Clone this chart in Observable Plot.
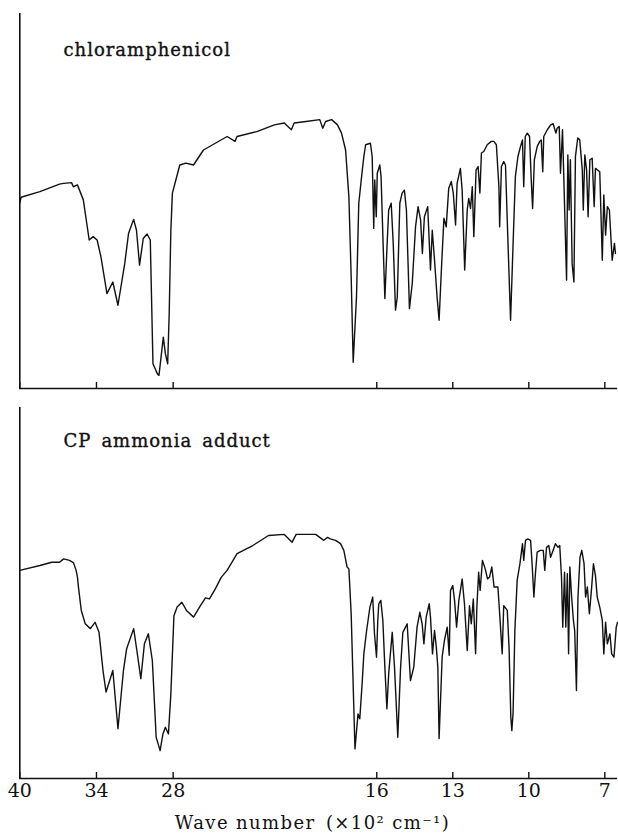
<!DOCTYPE html>
<html>
<head>
<meta charset="utf-8">
<script src="https://cdn.jsdelivr.net/npm/d3@7"></script>
<script src="https://cdn.jsdelivr.net/npm/@observablehq/plot@0.6"></script>
<style>
  html, body { margin: 0; padding: 0; background: #fff; }
  #wrap { position: relative; width: 618px; height: 834px; overflow: hidden; }
  #wrap > svg { position: absolute; left: 0; display: block; }
  .wide text { letter-spacing: 1px; }
  .title text { letter-spacing: 1.4px; }
</style>
</head>
<body>
<div id="wrap"></div>
<script>
// ---- Data (wave number in cm^-1, transmittance in % of panel height) ----
const panelLabels = ["chloramphenicol", "CP\u2002ammonia\u2002adduct"];
const tickValues = [4000, 3400, 2800, 1600, 1300, 1000, 700];
const axisTitle = "Wave number\u2002(×10² cm⁻¹)";

const topWavenumber = [4000, 3990, 3843, 3689, 3658, 3595, 3581, 3549, 3503, 3457, 3426, 3395, 3365, 3318, 3272, 3232, 3179, 3149, 3109, 3087, 3063, 3034, 3004, 2979, 2958, 2923, 2911, 2877, 2861, 2843, 2831, 2818, 2806, 2779, 2748, 2701, 2641, 2563, 2470, 2378, 2316, 2300, 2146, 2008,
  1965, 1937, 1926, 1879, 1825, 1813, 1802, 1778, 1755, 1739, 1723, 1710, 1701, 1693, 1680, 1671, 1657, 1651, 1644, 1625, 1618, 1612, 1608, 1602, 1598, 1588, 1583, 1575, 1568, 1559, 1553, 1543, 1535, 1526, 1519, 1509, 1500, 1491, 1483, 1471, 1460, 1447, 1437, 1427, 1420, 1412, 1399, 1388, 1381, 1372, 1362, 1354, 1345, 1335, 1326, 1316, 1306, 1298, 1289, 1283, 1270, 1263, 1253, 1243, 1237, 1230, 1223, 1217, 1208, 1200, 1193, 1187, 1178, 1164, 1148, 1138, 1128, 1118, 1115, 1108, 1099, 1092, 1083, 1072, 1062, 1053, 1043, 1033, 1025, 1020, 1014, 1006, 997, 991, 985, 978, 967, 957, 951, 945, 941, 927, 914, 904, 893, 888, 880, 875, 867, 862, 851, 846, 841, 836, 829, 822, 816, 807, 799, 789, 785, 779, 772, 766, 759, 750, 742, 737, 720, 710, 704, 697, 690, 682, 671, 662, 658];
const topTransmittance = [49.5, 51.0, 52.5, 54.5, 54.7, 54.9, 53.8, 54.3, 50.3, 39.6, 40.5, 39.6, 35.1, 25.3, 28.4, 22.2, 33.3, 41.4, 45.1, 42.2, 32.9, 40.0, 41.2, 39.6, 6.6, 3.9, 3.5, 13.7, 9.3, 6.6, 20.0, 42.2, 52.1, 55.6, 59.6, 60.1, 59.6, 63.6, 65.4, 67.2, 65.9, 67.2, 68.5, 70.3,
  70.8, 69.0, 70.8, 71.2, 71.7, 69.4, 71.2, 71.7, 70.3, 68.1, 63.6, 51.1, 29.8, 7.0, 24.4, 49.4, 58.3, 61.8, 65.0, 65.4, 61.8, 42.7, 55.6, 45.8, 57.4, 59.6, 56.5, 38.7, 24.0, 38.7, 47.6, 49.4, 38.7, 20.9, 24.4, 49.4, 52.1, 52.9, 47.6, 21.3, 28.0, 43.1, 48.5, 44.9, 36.0, 45.8, 48.5, 31.6, 42.2, 34.2, 24.4, 18.2, 31.6, 45.4, 43.1, 53.4, 55.2, 52.1, 43.6, 54.7, 58.7, 52.9, 31.6, 47.6, 50.7, 48.0, 53.8, 40.5, 58.3, 59.2, 52.1, 62.8, 63.2, 65.0, 65.9, 65.9, 65.0, 53.8, 43.1, 59.2, 60.5, 59.6, 40.5, 18.2, 38.7, 56.5, 61.8, 64.5, 66.3, 53.8, 67.2, 68.1, 67.2, 56.5, 48.0, 61.0, 64.5, 65.9, 66.3, 57.8, 67.2, 69.0, 70.3, 70.6, 68.1, 69.4, 69.9, 57.4, 69.0, 56.5, 28.9, 62.3, 47.6, 61.0, 33.3, 28.4, 61.8, 66.8, 66.3, 58.3, 47.6, 62.3, 58.3, 45.8, 61.0, 61.4, 48.5, 58.7, 57.8, 34.2, 51.6, 40.9, 48.5, 47.6, 34.2, 38.7, 36.0];

const bottomWavenumber = [4000, 3843, 3750, 3689, 3657, 3611, 3581, 3559, 3549, 3541, 3519, 3488, 3448, 3411, 3380, 3349, 3325, 3272, 3232, 3189, 3164, 3109, 3084, 3053, 3025, 2994, 2963, 2933, 2902, 2880, 2861, 2837, 2818, 2794, 2769, 2732, 2696, 2640, 2594, 2547, 2516, 2470, 2424, 2378, 2331, 2300, 2177, 2054,
  1965, 1934, 1918, 1841, 1809, 1794, 1783, 1763, 1743, 1730, 1717, 1710, 1701, 1686, 1674, 1667, 1657, 1651, 1640, 1627, 1616, 1609, 1601, 1596, 1592, 1584, 1576, 1568, 1560, 1553, 1539, 1530, 1517, 1506, 1497, 1480, 1467, 1454, 1441, 1430, 1421, 1414, 1405, 1393, 1388, 1380, 1372, 1365, 1359, 1354, 1342, 1333, 1322, 1314, 1309, 1300, 1293, 1285, 1276, 1263, 1254, 1243, 1234, 1227, 1219, 1210, 1205, 1198, 1192, 1183, 1172, 1163, 1155, 1146, 1137, 1122, 1115, 1105, 1099, 1085, 1078, 1071, 1067, 1062, 1055, 1046, 1035, 1025, 1020, 1013, 1004, 993, 987, 980, 974, 967, 954, 943, 937, 930, 921, 914, 904, 895, 885, 878, 871, 866, 859, 854, 848, 843, 838, 831, 824, 819, 812, 806, 798, 791, 782, 776, 769, 761, 753, 745, 737, 730, 720, 710, 704, 697, 690, 680, 673, 664, 655, 650];
const bottomTransmittance = [56.1, 57.4, 58.3, 58.3, 59.2, 58.8, 58.2, 56.1, 54.3, 51.6, 45.3, 41.7, 40.4, 42.1, 39.4, 29.1, 23.3, 29.1, 13.4, 29.1, 35.0, 40.4, 34.5, 26.9, 36.3, 39.0, 31.8, 11.1, 7.5, 12.0, 13.8, 12.0, 22.8, 43.9, 46.2, 47.5, 45.3, 43.5, 46.2, 48.7, 48.4, 51.1, 54.2, 56.1, 58.8, 60.6, 62.8, 65.5,
  65.8, 63.7, 65.8, 65.8, 64.2, 65.0, 64.6, 64.2, 63.3, 61.5, 57.0, 56.5, 44.4, 8.0, 17.4, 16.1, 26.4, 33.6, 39.9, 46.2, 48.9, 39.0, 32.7, 42.6, 47.1, 48.0, 42.6, 30.0, 18.8, 28.2, 39.4, 30.0, 11.1, 30.0, 39.4, 41.7, 26.4, 30.0, 40.8, 44.8, 41.7, 36.3, 43.5, 47.1, 43.5, 33.6, 39.9, 35.4, 30.0, 10.8, 32.7, 37.2, 40.8, 33.2, 50.7, 52.0, 48.0, 40.8, 48.0, 53.8, 47.1, 34.5, 46.6, 41.7, 48.4, 33.6, 46.2, 55.6, 50.7, 58.8, 56.5, 53.8, 54.3, 57.0, 51.6, 51.6, 44.4, 33.6, 46.6, 45.3, 35.4, 16.5, 12.9, 17.8, 39.9, 53.4, 57.9, 63.3, 58.8, 64.2, 64.6, 64.2, 57.9, 48.9, 55.2, 61.0, 61.5, 61.5, 56.1, 62.3, 62.8, 59.6, 61.5, 63.3, 62.3, 62.8, 54.3, 40.8, 55.6, 40.8, 55.2, 33.6, 57.0, 48.9, 42.6, 39.9, 23.7, 48.9, 59.6, 61.5, 57.9, 48.9, 51.6, 44.4, 50.7, 57.9, 54.7, 48.9, 46.2, 42.6, 33.6, 42.1, 36.3, 39.0, 33.6, 32.7, 40.8, 42.1];

// ---- Build tables ----
const topData = topWavenumber.map((w, i) => ({w, t: topTransmittance[i]}));
const bottomData = bottomWavenumber.map((w, i) => ({w, t: bottomTransmittance[i]}));

const FONT = "'DejaVu Serif', 'Liberation Serif', serif";
// piecewise x scale: 4000-2000 at one scale, 2000-650 at double scale
const xScale = {type: "linear", domain: [4000, 2000, 650], range: [19.3, 274.9, 617]};

function panel({data, label, height, marginTop, marginBottom, showLabels, labelDy}) {
  const frameH = height - marginTop - marginBottom;
  const marks = [
    Plot.ruleX([4000], {stroke: "#111", strokeWidth: 1.6}),
    Plot.ruleY([0], {stroke: "#111", strokeWidth: 1.7}),
    Plot.tickX(tickValues, {x: d => d, insetTop: frameH - 6, stroke: "#111", strokeWidth: 1.4}),
    Plot.line(data, {x: "w", y: "t", stroke: "#111", strokeWidth: 1.4, curve: "linear"}),
    Plot.text([label], {frameAnchor: "top-left", text: d => d, dx: 44, dy: labelDy, textAnchor: "start",
      lineAnchor: "middle", fontSize: 18, fill: "#111", stroke: "#111", strokeWidth: 0.35, className: "wide"})
  ];
  if (showLabels) {
    marks.push(Plot.axisX(tickValues, {tickSize: 0, tickPadding: 5, tickFormat: d => String(d / 100),
      fontSize: 19, fill: "#111", label: null}));
    marks.push(Plot.text([axisTitle], {frameAnchor: "bottom", text: d => d, dy: 45, dx: -6,
      lineAnchor: "middle", fontSize: 18, fill: "#111", className: "title"}));
  } else {
    marks.push(Plot.axisX({ticks: [], label: null}));
  }
  const svg = Plot.plot({
    width: 618,
    height,
    marginTop,
    marginBottom,
    marginLeft: 19,
    marginRight: 1,
    style: {fontFamily: FONT, background: "#fff", color: "#111", overflow: "visible"},
    x: xScale,
    y: {domain: [0, 100], axis: null},
    marks
  });
  return svg;
}

const wrap = document.getElementById("wrap");
const p1 = panel({data: topData, label: panelLabels[0], height: 392, marginTop: 13, marginBottom: 4, showLabels: false, labelDy: 37});
p1.style.top = "0px";
wrap.appendChild(p1);
const p2 = panel({data: bottomData, label: panelLabels[1], height: 442, marginTop: 15, marginBottom: 56, showLabels: true, labelDy: 34});
p2.style.top = "392px";
wrap.appendChild(p2);
</script>
</body>
</html>
